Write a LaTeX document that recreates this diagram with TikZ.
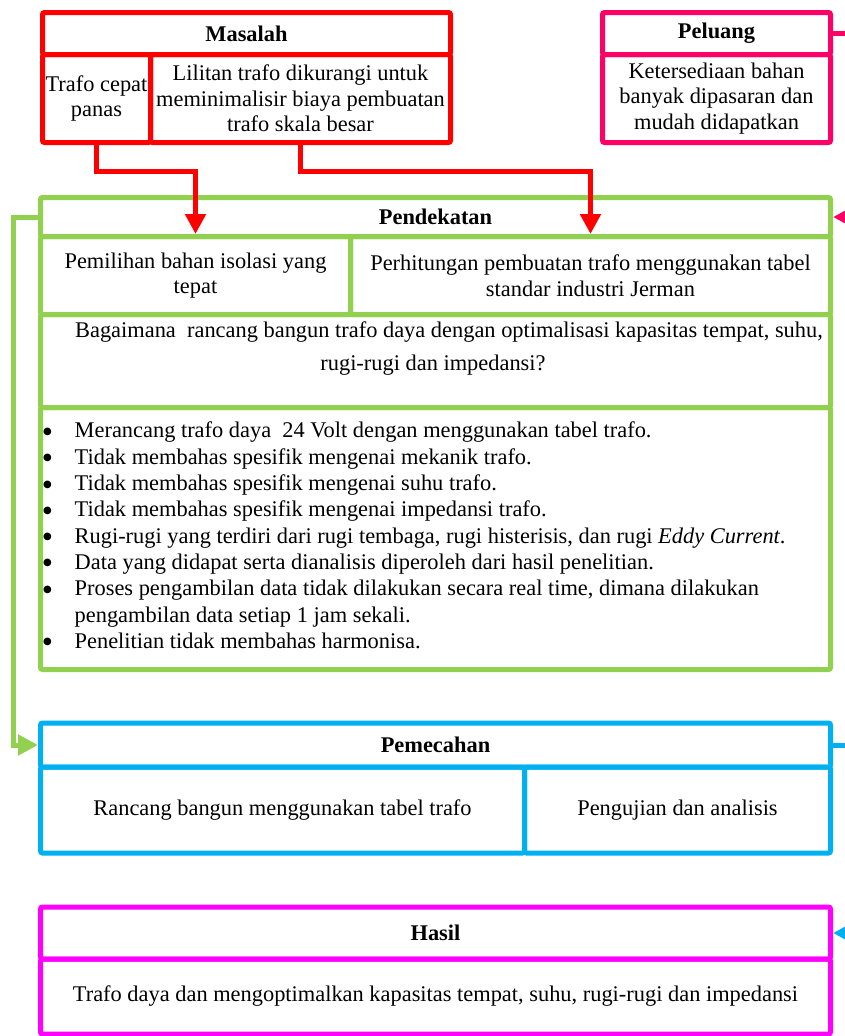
\documentclass[tikz,border=0pt]{standalone}
\usepackage{fontspec}
\setmainfont{Liberation Serif}
\newfontfamily\symfont{DejaVu Sans}
\usepackage{xcolor}
\usepackage{tikz}
\usetikzlibrary{calc,arrows.meta}

\definecolor{merah}{HTML}{FF0000}
\definecolor{pinkpeluang}{HTML}{FF0066}
\definecolor{hijau}{HTML}{92D050}
\definecolor{biru}{HTML}{00B0F0}
\definecolor{ungu}{HTML}{FF00FF}

\newcommand{\cellfont}{\fontsize{22.4}{25.6}\selectfont}
\newcommand{\listfont}{\fontsize{22.4}{26.3}\selectfont}
\newcommand{\askfont}{\fontsize{22.4}{33}\selectfont}
\newcommand{\blt}{\makebox[31.5pt][l]{\raisebox{3.5pt}{\symfont\fontsize{10}{10}\selectfont ●}}}

\begin{document}
\begin{tikzpicture}[x=1pt, y=-1pt,
	cell/.style={draw, line width=5pt, rounded corners=2pt, anchor=north west,
		inner sep=0pt, align=center, font=\cellfont},
	link/.style={line width=5pt, -{Triangle[length=20pt, width=20pt]}}]
	
	% --- 1. 画布大小 ---
	\useasboundingbox (0,0) rectangle (845,1036);
	\clip (0,0) rectangle (845,1036);
	
	% --- 2. 问题 (红框) ---
	\node[cell, merah, text=black, minimum width=408, minimum height=42] (mtitle) at (40,10) {\textbf{Masalah}};
	\node[cell, merah, text=black, minimum width=108, minimum height=88] (m1) at (40,52) {Trafo cepat\\panas};
	\node[cell, merah, text=black, minimum width=300, minimum height=88] (m2) at (148,52)
		{Lilitan trafo dikurangi untuk\\meminimalisir biaya pembuatan\\trafo skala besar};
	
	% --- 3. 机会 (粉框) ---
	\node[cell, pinkpeluang, text=black, minimum width=228, minimum height=42] (ptitle) at (600,10) {\textbf{Peluang}};
	\node[cell, pinkpeluang, text=black, minimum width=228, minimum height=88] (p1) at (600,52)
		{Ketersediaan bahan\\banyak dipasaran dan\\mudah didapatkan};
	
	% --- 4. 方法 (绿框) ---
	\node[cell, hijau, text=black, minimum width=790, minimum height=39] (dtitle) at (38,195) {\textbf{Pendekatan}};
	\node[cell, hijau, text=black, minimum width=310, minimum height=78] (d1) at (38,234)
		{Pemilihan bahan isolasi yang\\tepat};
	\node[cell, hijau, text=black, minimum width=480, minimum height=78] (d2) at (348,234)
		{Perhitungan pembuatan trafo menggunakan tabel\\standar industri Jerman};
	\node[cell, hijau, minimum width=790, minimum height=93] (d3) at (38,312) {};
	\node[cell, hijau, minimum width=790, minimum height=262] (d4) at (38,405) {};
	
	% 研究问题
	\node[anchor=north, align=center, inner sep=0pt, font=\askfont] (rumusan) at (433,321.5)
		{\hspace*{32pt}Bagaimana\ \ rancang bangun trafo daya dengan optimalisasi kapasitas tempat, suhu,\\
		rugi-rugi dan impedansi?};
	
	% 研究范围
	\node[anchor=north west, align=left, inner sep=0pt, font=\listfont] (batasan) at (43,422) {
		\blt Merancang trafo daya\ \ 24 Volt dengan menggunakan tabel trafo.\\
		\blt Tidak membahas spesifik mengenai mekanik trafo.\\
		\blt Tidak membahas spesifik mengenai suhu trafo.\\
		\blt Tidak membahas spesifik mengenai impedansi trafo.\\
		\blt Rugi-rugi yang terdiri dari rugi tembaga, rugi histerisis, dan rugi \textit{Eddy Current}.\\
		\blt Data yang didapat serta dianalisis diperoleh dari hasil penelitian.\\
		\blt Proses pengambilan data tidak dilakukan secara real time, dimana dilakukan\\
		\hspace*{31.5pt}pengambilan data setiap 1 jam sekali.\\
		\blt Penelitian tidak membahas harmonisa.};
	
	% --- 5. 解决 (蓝框) ---
	\node[cell, biru, text=black, minimum width=790, minimum height=44] (ctitle) at (38,720.5) {\textbf{Pemecahan}};
	\node[cell, biru, text=black, minimum width=484, minimum height=86] (c1) at (38,764.5)
		{Rancang bangun menggunakan tabel trafo};
	\node[cell, biru, text=black, minimum width=306, minimum height=86] (c2) at (522,764.5)
		{Pengujian dan analisis};
	
	% --- 6. 结果 (紫框) ---
	\node[cell, ungu, text=black, minimum width=790, minimum height=52] (htitle) at (38,904.5) {\textbf{Hasil}};
	\node[cell, ungu, text=black, minimum width=790, minimum height=75] (h1) at (38,956.5)
		{Trafo daya dan mengoptimalkan kapasitas tempat, suhu, rugi-rugi dan impedansi};
	
	% --- 7. 连线 ---
	\draw[link, merah] (m1.south) -- ++(0,26) -| (d1.north);
	\draw[link, merah] (m2.south) -- ++(0,26) -| (d2.north);
	\draw[link, pinkpeluang] (ptitle.east) -- ++(40,0) |- (dtitle.east);
	\draw[link, hijau] (dtitle.west) -- ++(-24.5,0) |- (ctitle.west);
	\draw[link, biru] (ctitle.east) -- ++(40,0) |- (htitle.east);
	
\end{tikzpicture}
\end{document}
